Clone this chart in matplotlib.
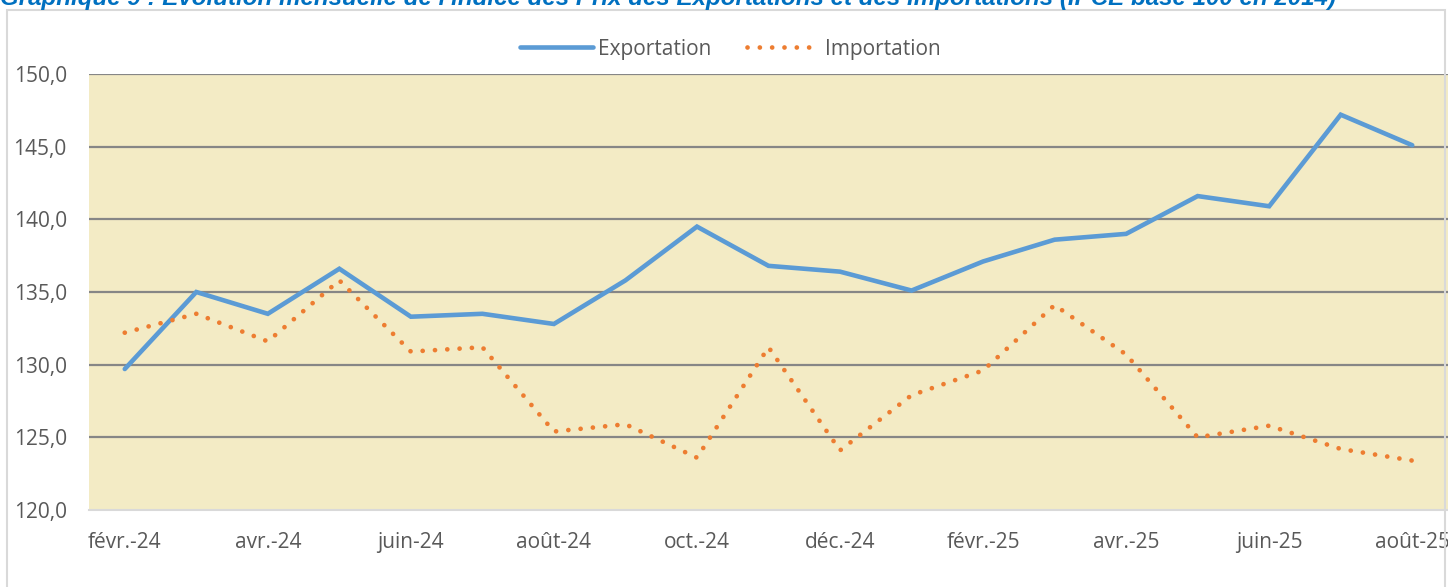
import matplotlib
matplotlib.use("Agg")
import matplotlib.pyplot as plt
from matplotlib.patches import Rectangle

months = ["févr.-24", "mars-24", "avr.-24", "mai-24", "juin-24", "juil.-24", "août-24",
          "sept.-24", "oct.-24", "nov.-24", "déc.-24", "janv.-25", "févr.-25", "mars-25",
          "avr.-25", "mai-25", "juin-25", "juil.-25", "août-25"]
exportation = [129.7, 135.0, 133.5, 136.6, 133.3, 133.5, 132.8, 135.8, 139.5, 136.8,
               136.4, 135.1, 137.1, 138.6, 139.0, 141.6, 140.9, 147.2, 145.1]
importation = [132.2, 133.5, 131.6, 135.8, 130.9, 131.2, 125.4, 125.9, 123.6, 131.2,
               124.1, 127.9, 129.6, 134.1, 130.7, 125.0, 125.8, 124.2, 123.4]
yticks = [120, 125, 130, 135, 140, 145, 150]
title = ("Graphique 9 : Évolution mensuelle de l'indice des Prix des Exportations "
         "et des Importations (IPCE base 100 en 2014)")

plt.rcParams['font.family'] = ['Open Sans', 'DejaVu Sans']
txt = '#595959'

W, H = 1448, 587
fig = plt.figure(figsize=(W / 100, H / 100), dpi=100)

# outer chart border
fig.patches.append(Rectangle((7 / W, -0.01), (1445 - 7) / W, (H - 10) / H + 0.01,
                             transform=fig.transFigure, fill=False,
                             edgecolor='#D9D9D9', linewidth=1.5))

fig.text(0.0, 1.0 + 0.006, title, ha='left', va='center', color='#0070C0',
         fontsize=17.4, fontweight='bold', fontstyle='italic',
         family=['Liberation Sans', 'DejaVu Sans'])

ax = fig.add_axes([89 / W, (H - 510) / H, (W - 89) / W, (510 - 74) / H])
ax.set_facecolor('#F3EBC5')
x = list(range(len(months)))

ax.plot(x, exportation, color='#5B9BD5', linewidth=3.3, solid_capstyle='round',
        solid_joinstyle='miter', label='Exportation', zorder=3)
ax.plot(x, importation, color='#ED7D31', linewidth=3.4, linestyle=(0, (0.01, 2.6)),
        dash_capstyle='round', label='Importation', zorder=3)

ax.set_xlim(-0.5, len(months) - 0.5)
ax.set_ylim(120, 150)
ax.set_yticks(yticks)
ax.set_yticklabels([f"{v:.1f}".replace('.', ',') for v in yticks])
ax.set_xticks(x[::2])
ax.set_xticklabels(months[::2])
ax.tick_params(axis='both', length=0, labelsize=15, colors=txt)
ax.tick_params(axis='y', pad=16)
ax.tick_params(axis='x', pad=16)

for v in yticks[1:]:
    ax.axhline(v, color='#868686', linewidth=1.6, zorder=1)
for s in ['top', 'right', 'left']:
    ax.spines[s].set_visible(False)
ax.spines['bottom'].set_color('#D9D9D9')
ax.spines['bottom'].set_linewidth(1.5)

leg = ax.legend(loc='center', bbox_to_anchor=(0.472, 1.057), ncol=2, frameon=False,
                fontsize=15, handlelength=3.5, columnspacing=1.7, handletextpad=0.25)
for t in leg.get_texts():
    t.set_color(txt)

fig.savefig('out.png', dpi=100)
